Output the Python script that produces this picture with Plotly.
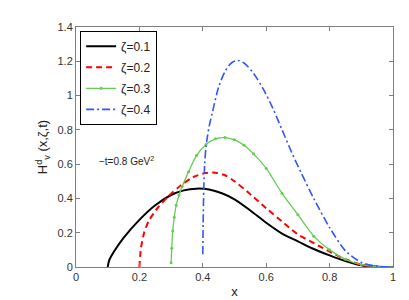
import plotly.graph_objects as go

# zeta = 0.1
x1 = [0.1, 0.105, 0.12, 0.15, 0.2, 0.25, 0.3, 0.34, 0.38, 0.42, 0.46, 0.5, 0.55, 0.6, 0.65, 0.7, 0.75, 0.8, 0.85, 0.9, 0.95, 1.0]
y1 = [0.0, 0.04, 0.09, 0.17, 0.275, 0.36, 0.42, 0.447, 0.457, 0.452, 0.43, 0.395, 0.33, 0.258, 0.195, 0.15, 0.105, 0.068, 0.035, 0.01, 0.001, 0.0]
# zeta = 0.2
x2 = [0.2, 0.205, 0.215, 0.23, 0.26, 0.29, 0.33, 0.37, 0.41, 0.44, 0.47, 0.5, 0.54, 0.6, 0.65, 0.7, 0.75, 0.8, 0.85, 0.9, 0.95, 1.0]
y2 = [0.0, 0.11, 0.2, 0.27, 0.35, 0.41, 0.475, 0.525, 0.548, 0.55, 0.535, 0.5, 0.44, 0.343, 0.265, 0.19, 0.14, 0.09, 0.045, 0.014, 0.002, 0.0]
# zeta = 0.3
x3 = [0.3, 0.302, 0.305, 0.31, 0.316, 0.325, 0.335, 0.355, 0.38, 0.41, 0.44, 0.47, 0.5, 0.53, 0.56, 0.6, 0.65, 0.7, 0.75, 0.8, 0.85, 0.9, 0.95, 1.0]
y3 = [0.025, 0.11, 0.21, 0.29, 0.36, 0.42, 0.47, 0.555, 0.65, 0.715, 0.748, 0.755, 0.742, 0.71, 0.66, 0.575, 0.43, 0.305, 0.18, 0.1, 0.045, 0.014, 0.002, 0.0]
# zeta = 0.4
x4 = [0.4, 0.401, 0.403, 0.406, 0.41, 0.42, 0.43, 0.45, 0.47, 0.49, 0.51, 0.53, 0.56, 0.59, 0.62, 0.65, 0.68, 0.71, 0.75, 0.8, 0.85, 0.9, 0.95, 1.0]
y4 = [0.075, 0.25, 0.45, 0.6, 0.7, 0.82, 0.9, 1.05, 1.14, 1.19, 1.205, 1.19, 1.13, 1.04, 0.93, 0.8, 0.67, 0.55, 0.4, 0.23, 0.095, 0.027, 0.004, 0.0]

names = ["ζ=0.1", "ζ=0.2", "ζ=0.3", "ζ=0.4"]
x_ticks = [0, 0.2, 0.4, 0.6, 0.8, 1]
y_ticks = [0, 0.2, 0.4, 0.6, 0.8, 1, 1.2, 1.4]

fig = go.Figure()
fig.add_trace(go.Scatter(x=x1, y=y1, name=names[0], mode="lines", line=dict(color="black", width=2, shape="spline", smoothing=0.8), legendgroup="a"))
fig.add_trace(go.Scatter(x=x2, y=y2, name=names[1], mode="lines", line=dict(color="#ff0000", width=2, dash="6px,4px", shape="spline", smoothing=0.8), legendgroup="b"))
fig.add_trace(go.Scatter(x=x3, y=y3, name=names[2], mode="lines+markers", line=dict(color="#66cc55", width=1.3, shape="spline", smoothing=0.8), marker=dict(size=3, color="#66cc55"), legendgroup="c"))
fig.add_trace(go.Scatter(x=x4, y=y4, name=names[3], mode="lines", line=dict(color="#3355ff", width=1.6, dash="8px,3px,2px,3px", shape="spline", smoothing=0.8), legendgroup="d"))

axis_common = dict(showline=True, linecolor="#7f7f7f", linewidth=1, mirror="ticks", ticks="inside", ticklen=4,
                   tickcolor="#7f7f7f", showgrid=False, zeroline=False,
                   tickfont=dict(family="Liberation Sans, Arial", size=11, color="#333333"))

fig.update_layout(
    width=409, height=300,
    margin=dict(l=68, r=24, t=19, b=37),
    plot_bgcolor="white", paper_bgcolor="white",
    xaxis=dict(range=[0, 1], tickvals=x_ticks, ticktext=[f"{v:g}" for v in x_ticks],
               title=dict(text="x", font=dict(family="Liberation Sans, Arial", size=13, color="#222"), standoff=4), **axis_common),
    yaxis=dict(range=[0, 1.4], tickvals=y_ticks, ticktext=[f"{v:g}" for v in y_ticks],
               title=dict(text="H<sup>d</sup><sub>v</sub> (x,ζ,t)", font=dict(family="Liberation Sans, Arial", size=13, color="#222"), standoff=6), **axis_common),
    legend=dict(x=0.013, y=0.984, xanchor="left", yanchor="top", bgcolor="white", bordercolor="black", borderwidth=1,
                font=dict(family="Liberation Sans, Arial", size=12, color="#222"), tracegroupgap=2),
    showlegend=True,
    annotations=[dict(x=0.16, y=0.62, xref="x", yref="y", text="−t=0.8 GeV<sup>2</sup>", showarrow=False,
                      font=dict(family="Liberation Sans, Arial", size=10, color="#222"))],
)

fig.write_html("out.html")
